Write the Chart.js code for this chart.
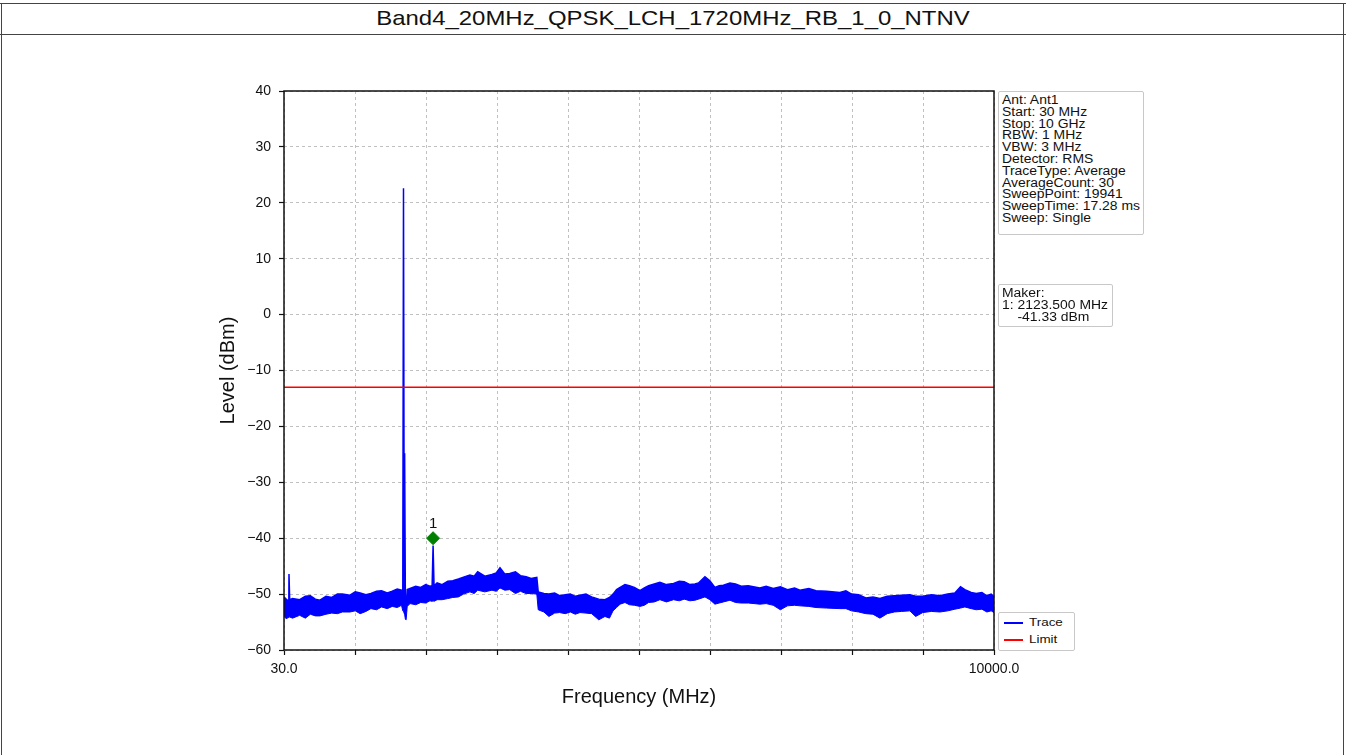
<!DOCTYPE html>
<html>
<head>
<meta charset="utf-8">
<script src="https://cdn.jsdelivr.net/npm/chart.js@4/dist/chart.umd.min.js"></script>
<style>
    body { margin: 0; background: #fff; font-family: 'Liberation Sans', Arial, sans-serif; }
    #page { position: relative; width: 1346px; height: 755px; overflow: hidden; }
    .hline { position: absolute; left: 0; width: 1346px; height: 0; border-top: 1.5px solid #444; }
    .vline { position: absolute; top: 3px; height: 760px; width: 0; border-left: 1.5px solid #444; }
    #title { position: absolute; left: 0; width: 1346px; top: 6px; text-align: center; font-size: 21px; color: #111;
             transform: scaleX(1.14); transform-origin: 673px 0; }
    #chart-wrap { position: absolute; left: 0; top: 0; width: 1346px; height: 755px; }
    .box { position: absolute; border: 1px solid #c8c8c8; border-radius: 2px; background: #fff; box-sizing: border-box; }
    .box .txt { position: absolute; left: 3px; top: 3px; font-size: 12px; line-height: 11.8px; color: #111;
                white-space: pre; transform: scaleX(1.16); transform-origin: 0 0; }
    #legend { position: absolute; left: 998px; top: 612px; width: 75px; height: 37px; border: 1px solid #c8c8c8;
              border-radius: 2px; color: #111; background: #fff; }
    #legend .row { position: absolute; left: 5px; height: 12px; }
    #legend .sw { position: absolute; left: 0; top: 6px; width: 19px; height: 1.5px; }
    #legend .tx { position: absolute; left: 25px; top: 0; font-size: 11px; transform: scaleX(1.22); transform-origin: 0 0; }
</style>
</head>
<body>
<div id="page">
    <div class="hline" style="top:3px"></div>
    <div class="hline" style="top:34px"></div>
    <div class="vline" style="left:1px"></div>
    <div class="vline" style="left:1343px"></div>
    <div id="title">Band4_20MHz_QPSK_LCH_1720MHz_RB_1_0_NTNV</div>
    <div id="chart-wrap"><canvas id="spectrum" width="1346" height="755"></canvas></div>
    <div class="box" style="left:998px; top:91px; width:146px; height:144px;"><div class="txt" id="info"></div></div>
    <div class="box" style="left:998px; top:284px; width:115px; height:43px;"><div class="txt" id="maker"></div></div>
    <div id="legend"></div>
</div>
<script>
// Frequency grid (MHz) and noise band envelopes (dBm)
const freqs = [30, 60, 90, 100, 110, 150, 250, 330, 400, 470, 535, 620, 700, 780, 850, 957, 1030, 1100, 1180, 1250,
    1330, 1400, 1480, 1550, 1620, 1680, 1698, 1708, 1716, 1724, 1734, 1745, 1760, 1800, 1880, 1950, 2020,
    2080, 2110, 2123.5, 2137, 2180, 2250, 2330, 2400, 2480, 2550, 2641, 2700, 2750, 2850, 2950, 3010, 3063,
    3130, 3200, 3280, 3350, 3430, 3500, 3580, 3600, 3680, 3750, 3830, 3900, 3980, 4050, 4120, 4186, 4270,
    4350, 4450, 4537, 4600, 4650, 4700, 4750, 4818, 4880, 4950, 5028, 5090, 5150, 5230, 5309, 5400, 5500,
    5580, 5650, 5730, 5800, 5850, 5941, 6010, 6081, 6140, 6200, 6292, 6370, 6450, 6550, 6713, 6800, 6900,
    7000, 7100, 7200, 7275, 7400, 7500, 7650, 7836, 7920, 8000, 8100, 8200, 8300, 8398, 8500, 8600, 8700,
    8819, 8900, 9000, 9120, 9240, 9350, 9450, 9530, 9591, 9680, 9750, 9830, 9900, 9960, 10000];

const traceUpper = [-50.5, -50.9, -51.2, -46.4, -51.0, -50.8, -51.0, -50.4, -50.3, -50.9, -51.1, -50.4, -50.6, -50.0, -50.0,
    -50.2, -49.6, -49.8, -50.1, -49.9, -49.5, -49.4, -49.8, -49.5, -49.1, -49.3, -50.0, 22.6, -30.0, -24.8,
    -50.2, -53.0, -49.2, -49.0, -48.6, -48.8, -48.3, -48.6, -48.5, -41.3, -48.5, -48.0, -48.3, -47.7, -47.6,
    -47.3, -47.0, -46.6, -46.8, -46.0, -46.8, -46.5, -46.2, -45.3, -46.4, -46.3, -46.0, -46.7, -46.9, -47.2,
    -47.0, -49.6, -49.9, -50.0, -49.8, -50.3, -50.1, -50.0, -50.4, -50.2, -50.0, -50.5, -50.9, -51.0, -50.6,
    -50.0, -49.2, -48.8, -48.3, -48.5, -48.8, -49.4, -48.9, -48.5, -48.2, -47.9, -48.3, -48.1, -47.7, -47.8,
    -48.3, -48.2, -48.0, -46.9, -47.6, -48.8, -48.5, -48.4, -48.0, -48.2, -48.6, -48.5, -48.9, -48.6, -49.0,
    -48.7, -49.2, -48.9, -49.3, -49.0, -49.4, -49.5, -49.7, -49.4, -50.0, -50.1, -50.7, -50.5, -50.8, -50.4,
    -50.3, -50.2, -50.1, -50.4, -50.4, -50.1, -50.3, -50.0, -49.8, -48.7, -49.2, -49.7, -49.9, -49.7, -50.3,
    -50.0, -50.5];

const traceLower = [-54.0, -54.4, -54.2, -54.0, -54.1, -54.3, -53.8, -54.3, -53.6, -53.9, -53.9, -53.6, -53.4, -53.5, -53.2,
    -53.2, -53.0, -53.5, -53.1, -52.6, -52.8, -52.3, -52.6, -52.2, -52.4, -52.0, -53.0, -53.0, -53.4, -53.6,
    -54.5, -54.6, -52.2, -51.7, -51.9, -51.5, -51.6, -51.2, -51.3, -51.2, -51.3, -51.0, -51.0, -50.8, -50.6,
    -50.5, -50.0, -49.6, -49.9, -49.3, -49.6, -49.3, -49.5, -48.9, -49.3, -49.2, -49.9, -49.5, -49.9, -49.9,
    -50.0, -52.8, -53.2, -54.0, -53.4, -53.3, -53.5, -53.2, -53.6, -53.3, -53.4, -53.5, -54.6, -54.0, -54.3,
    -53.0, -52.4, -51.8, -51.5, -51.9, -52.0, -52.2, -52.0, -51.5, -51.4, -51.0, -51.4, -51.0, -51.2, -50.9,
    -51.2, -51.1, -50.9, -50.5, -51.0, -51.8, -51.6, -51.4, -51.1, -51.5, -51.6, -51.6, -51.8, -51.7, -52.0,
    -52.8, -52.1, -52.0, -52.1, -52.2, -52.4, -52.5, -52.6, -52.6, -53.0, -53.2, -53.5, -53.6, -54.3, -53.5,
    -53.2, -53.1, -53.0, -54.0, -53.3, -53.1, -53.2, -53.0, -52.7, -52.5, -52.3, -52.6, -52.8, -52.7, -53.2,
    -53.0, -53.3];

const limitFreqs = [30, 10000];
const limitValues = [-13, -13];

const markerFreq = [2123.5];
const markerLevel = [-40];
const markerLabels = ['1'];

const yTicks = [-60, -50, -40, -30, -20, -10, 0, 10, 20, 30, 40];
const xTicks = [30, 1027, 2024, 3021, 4018, 5015, 6012, 7009, 8006, 9003, 10000];

const infoLines = ['Ant: Ant1', 'Start: 30 MHz', 'Stop: 10 GHz', 'RBW: 1 MHz', 'VBW: 3 MHz', 'Detector: RMS',
    'TraceType: Average', 'AverageCount: 30', 'SweepPoint: 19941', 'SweepTime: 17.28 ms', 'Sweep: Single'];
const makerLines = ['Maker:', '1: 2123.500 MHz', '    -41.33 dBm'];

document.getElementById('info').textContent = infoLines.join('\n');
document.getElementById('maker').textContent = makerLines.join('\n');

// Legend (outside the plot, bottom right)
const legendItems = [{ label: 'Trace', color: '#0000ff' }, { label: 'Limit', color: '#ff0000' }];
const legendEl = document.getElementById('legend');
legendItems.forEach((item, i) => {
    const row = document.createElement('div');
    row.className = 'row';
    row.style.top = (3 + i * 17) + 'px';
    row.innerHTML = '<div class="sw" style="background:' + item.color + '"></div><div class="tx">' + item.label + '</div>';
    legendEl.appendChild(row);
});

const toPoints = (xs, ys) => xs.map((x, i) => ({ x: x, y: ys[i] }));
const fontFamily = '"Liberation Sans", Arial, sans-serif';

// Frame around the plot area and the marker label
const framePlugin = {
    id: 'frame',
    afterDatasetsDraw(chart) {
        const ctx = chart.ctx;
        const a = chart.chartArea;
        ctx.save();
        ctx.strokeStyle = '#111';
        ctx.lineWidth = 1.5;
        ctx.strokeRect(a.left, a.top, a.right - a.left, a.bottom - a.top);
        const meta = chart.getDatasetMeta(3);
        ctx.fillStyle = '#111';
        ctx.font = '15px ' + fontFamily;
        ctx.textAlign = 'center';
        ctx.textBaseline = 'bottom';
        meta.data.forEach((pt, i) => ctx.fillText(markerLabels[i], pt.x, pt.y - 7));
        ctx.restore();
    }
};

const ctx = document.getElementById('spectrum').getContext('2d');
const spectrumChart = new Chart(ctx, {
    type: 'line',
    data: {
        datasets: [
            {
                label: 'Trace',
                data: toPoints(freqs, traceUpper),
                borderColor: '#0000ff',
                borderWidth: 1.5,
                pointRadius: 0,
                fill: false,
                order: 3
            },
            {
                label: 'TraceLow',
                data: toPoints(freqs, traceLower),
                borderColor: '#0000ff',
                backgroundColor: '#0000ff',
                borderWidth: 1,
                pointRadius: 0,
                fill: '-1',
                order: 3
            },
            {
                label: 'Limit',
                data: toPoints(limitFreqs, limitValues),
                borderColor: '#ff0000',
                borderWidth: 1.3,
                pointRadius: 0,
                fill: false,
                order: 2
            },
            {
                label: 'Marker',
                type: 'scatter',
                data: toPoints(markerFreq, markerLevel),
                pointStyle: 'rectRot',
                pointRadius: 6.5,
                backgroundColor: '#008000',
                borderColor: '#008000',
                order: 1
            }
        ]
    },
    options: {
        responsive: false,
        animation: false,
        layout: { padding: { left: 214, right: 352, top: 91, bottom: 42 } },
        plugins: {
            legend: { display: false },
            tooltip: { enabled: false }
        },
        scales: {
            x: {
                type: 'linear',
                min: 30,
                max: 10000,
                afterBuildTicks: scale => { scale.ticks = xTicks.map(v => ({ value: v })); },
                afterFit: scale => { scale.height = 63; },
                ticks: {
                    color: '#111',
                    font: { size: 14, family: fontFamily },
                    maxRotation: 0,
                    autoSkip: false,
                    padding: 6,
                    callback: v => (v === 30 || v === 10000) ? v.toFixed(1) : ''
                },
                grid: { color: '#c0c0c0', tickColor: '#111', tickLength: 5, tickWidth: 1.2 },
                border: { display: false, dash: [3, 3] },
                title: {
                    display: true,
                    text: 'Frequency (MHz)',
                    color: '#111',
                    font: { size: 20, family: fontFamily },
                    padding: { top: 4, bottom: 4 }
                }
            },
            y: {
                min: -60,
                max: 40,
                afterBuildTicks: scale => { scale.ticks = yTicks.map(v => ({ value: v })); },
                afterFit: scale => { scale.width = 70; },
                ticks: {
                    color: '#111',
                    font: { size: 14, family: fontFamily },
                    padding: 8,
                    callback: v => String(v).replace('-', '\u2212')
                },
                grid: { color: '#c0c0c0', tickColor: '#111', tickLength: 5, tickWidth: 1.2 },
                border: { display: false, dash: [3, 3] },
                title: {
                    display: true,
                    text: 'Level (dBm)',
                    color: '#111',
                    font: { size: 20, family: fontFamily },
                    padding: { top: 2, bottom: 2 }
                }
            }
        }
    },
    plugins: [framePlugin]
});
</script>
</body>
</html>
